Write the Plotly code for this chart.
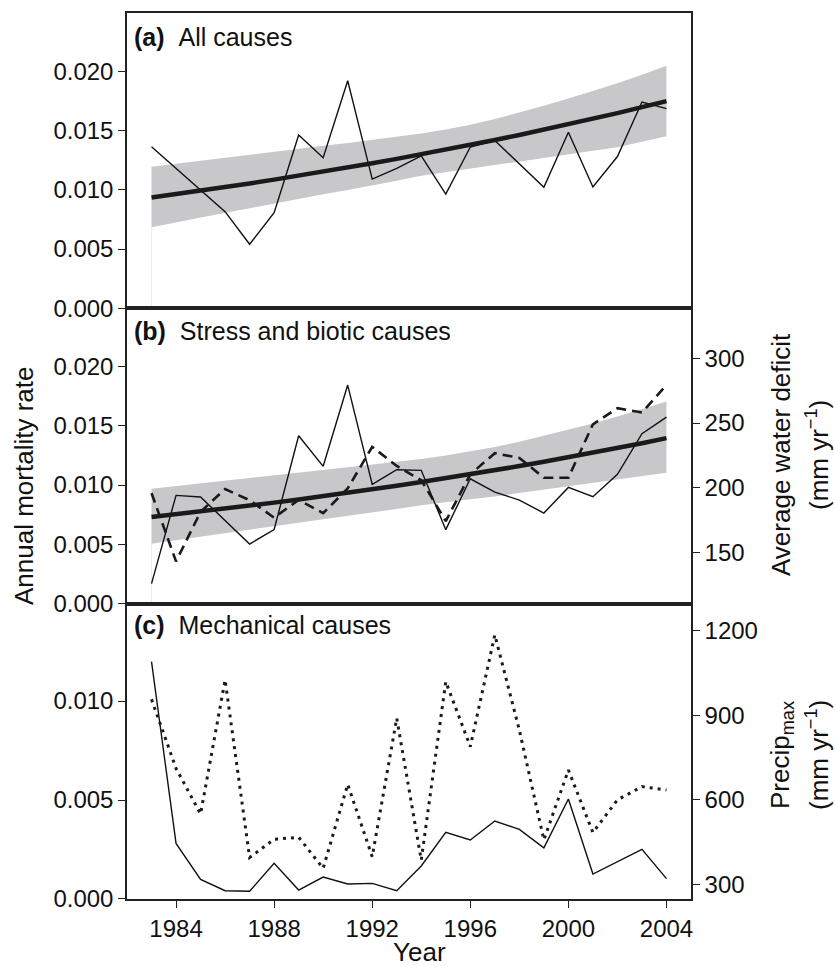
import plotly.graph_objects as go

years = list(range(1983, 2005))

# Panel (a) all causes
a_obs = [0.01362, 0.01180, 0.00997, 0.00815, 0.00540, 0.00806, 0.01461, 0.01270, 0.01919,
         0.01090, 0.01180, 0.01285, 0.00963, 0.01360, 0.01415, 0.01216, 0.01020, 0.01485,
         0.01023, 0.01280, 0.01740, 0.01684]
a_fit = [0.00935, 0.00963, 0.00992, 0.01022, 0.01053, 0.01085, 0.01118, 0.01152, 0.01187,
         0.01223, 0.01260, 0.01298, 0.01337, 0.01377, 0.01419, 0.01462, 0.01506, 0.01551,
         0.01598, 0.01646, 0.01696, 0.01747]
a_up = [0.01194, 0.01220, 0.01245, 0.01270, 0.01295, 0.01320, 0.01345, 0.01370, 0.01394,
        0.01419, 0.01446, 0.01475, 0.01508, 0.01548, 0.01596, 0.01650, 0.01708, 0.01770,
        0.01835, 0.01897, 0.01970, 0.02045]
a_lo = [0.00683, 0.00724, 0.00765, 0.00805, 0.00845, 0.00884, 0.00923, 0.00961, 0.00998,
        0.01034, 0.01076, 0.01118, 0.01148, 0.01178, 0.01208, 0.01238, 0.01268, 0.01298,
        0.01328, 0.01358, 0.01403, 0.01450]

# Panel (b) stress and biotic causes
b_obs = [0.00169, 0.00913, 0.00899, 0.00702, 0.00503, 0.00625, 0.01416, 0.01158, 0.01843,
         0.01006, 0.01129, 0.01124, 0.00624, 0.01053, 0.00941, 0.00873, 0.00764, 0.00980,
         0.00902, 0.01090, 0.01433, 0.01573]
b_def = [195.8, 143.0, 181.3, 199.0, 190.3, 176.8, 190.6, 180.3, 199.4, 231.6, 216.8, 205.8,
         174.2, 210.3, 226.7, 223.0, 207.7, 207.7, 249.0, 261.5, 258.2, 279.4]
b_fit = [0.00730, 0.00753, 0.00777, 0.00801, 0.00826, 0.00852, 0.00879, 0.00906, 0.00935,
         0.00964, 0.00994, 0.01025, 0.01057, 0.01090, 0.01124, 0.01160, 0.01196, 0.01234,
         0.01272, 0.01312, 0.01353, 0.01396]
b_up = [0.00969, 0.00991, 0.01013, 0.01035, 0.01058, 0.01081, 0.01104, 0.01127, 0.01150,
        0.01174, 0.01195, 0.01220, 0.01250, 0.01284, 0.01320, 0.01365, 0.01415, 0.01465,
        0.01520, 0.01579, 0.01640, 0.01705]
b_lo = [0.00506, 0.00536, 0.00566, 0.00596, 0.00625, 0.00654, 0.00683, 0.00711, 0.00739,
        0.00767, 0.00798, 0.00829, 0.00855, 0.00880, 0.00904, 0.00932, 0.00960, 0.00988,
        0.01016, 0.01045, 0.01075, 0.01104]

# Panel (c) mechanical causes
c_obs = [0.01199, 0.00281, 0.00099, 0.00042, 0.00039, 0.00180, 0.00045, 0.00111, 0.00076,
         0.00079, 0.00042, 0.00167, 0.00337, 0.00298, 0.00394, 0.00352, 0.00258, 0.00505,
         0.00126, 0.00189, 0.00251, 0.00103]
c_pre = [957, 712, 550, 1026, 395, 460, 467, 357, 655, 398, 890, 386, 1020, 789, 1186, 848,
         458, 706, 484, 600, 647, 635]

x_ticks = [1984, 1988, 1992, 1996, 2000, 2004]
left_ticks_ab = [0, 0.005, 0.010, 0.015, 0.020]
left_ticks_c = [0, 0.005, 0.010]
def_ticks = [150, 200, 250, 300]
pre_ticks = [300, 600, 900, 1200]

FONT = "Liberation Sans, Arial, sans-serif"
BAND = "#c8c8ca"
INK = "#111111"
FRAME = "#222222"

fig = go.Figure()

def add_panel(xa, ya, obs, up, lo):
    fig.add_trace(go.Scatter(x=years + years[::-1], y=up + lo[::-1], fill="toself",
                             fillcolor=BAND, line=dict(width=0), mode="lines",
                             xaxis=xa, yaxis=ya, hoverinfo="skip", showlegend=False))
    fig.add_trace(go.Scatter(x=[years[0], years[0]], y=[0, lo[0]], mode="lines",
                             line=dict(color="#ececec", width=1), xaxis=xa, yaxis=ya,
                             showlegend=False))
    fig.add_trace(go.Scatter(x=years, y=obs, mode="lines", line=dict(color=INK, width=1.4),
                             xaxis=xa, yaxis=ya, showlegend=False))

def add_fit(xa, ya, fit):
    fig.add_trace(go.Scatter(x=years, y=fit, mode="lines", line=dict(color="#1a1a1a", width=4.5),
                             xaxis=xa, yaxis=ya, showlegend=False))

add_panel("x", "y", a_obs, a_up, a_lo)
add_fit("x", "y", a_fit)

add_panel("x2", "y2", b_obs, b_up, b_lo)
fig.add_trace(go.Scatter(x=years, y=b_def, mode="lines",
                         line=dict(color="#1a1a1a", width=2.6, dash="10px,6px"),
                         xaxis="x2", yaxis="y4", showlegend=False))
add_fit("x2", "y2", b_fit)

fig.add_trace(go.Scatter(x=years, y=c_pre, mode="lines",
                         line=dict(color="#1a1a1a", width=3, dash="3px,5px"),
                         xaxis="x3", yaxis="y5", showlegend=False))
fig.add_trace(go.Scatter(x=years, y=c_obs, mode="lines", line=dict(color=INK, width=1.4),
                         xaxis="x3", yaxis="y3", showlegend=False))

tickfont = dict(family=FONT, size=24, color="#111")
common_x = dict(range=[1982, 2005], showgrid=False, zeroline=False, showline=True,
                mirror=True, linecolor=FRAME, linewidth=1.5)
common_y = dict(showgrid=False, zeroline=False, showline=True, mirror=True,
                linecolor=FRAME, linewidth=1.5, ticks="outside", ticklen=7,
                tickwidth=1.3, tickcolor=FRAME, tickfont=tickfont)

fig.update_layout(
    width=835, height=966,
    margin=dict(l=127, r=144, t=13, b=67),
    paper_bgcolor="white", plot_bgcolor="white",
    font=dict(family=FONT, color="#111"),
    xaxis=dict(domain=[0, 1], anchor="y", showticklabels=False, ticks="", **common_x),
    xaxis2=dict(domain=[0, 1], anchor="y2", showticklabels=False, ticks="", **common_x),
    xaxis3=dict(domain=[0, 1], anchor="y3", ticks="outside", ticklen=7, tickwidth=1.3,
                tickcolor=FRAME, tickvals=x_ticks, ticktext=[str(v) for v in x_ticks],
                tickfont=tickfont, **common_x),
    yaxis=dict(domain=[2/3, 1], anchor="x", range=[0, 0.0249], tickvals=left_ticks_ab,
               ticktext=[f"{v:.3f}" for v in left_ticks_ab], **common_y),
    yaxis2=dict(domain=[1/3, 2/3], anchor="x2", range=[0, 0.0249], tickvals=left_ticks_ab,
                ticktext=[f"{v:.3f}" for v in left_ticks_ab], **common_y),
    yaxis3=dict(domain=[0, 1/3], anchor="x3", range=[0, 0.01492], tickvals=left_ticks_c,
                ticktext=[f"{v:.3f}" for v in left_ticks_c], **common_y),
    yaxis4=dict(overlaying="y2", side="right", anchor="x2", range=[110.3, 338.7],
                tickvals=def_ticks, ticktext=[str(v) for v in def_ticks], **common_y),
    yaxis5=dict(overlaying="y3", side="right", anchor="x3", range=[247.8, 1297],
                tickvals=pre_ticks, ticktext=[str(v) for v in pre_ticks], **common_y),
)

def px_x(px):
    return (px - 127) / 564

def px_y(py):
    return (899 - py) / 886

ann = []
lab_font = dict(family=FONT, size=25, color="#111")
for txt, yy in [("<b>(a)</b>\u00a0\u00a0All causes", 37),
                ("<b>(b)</b>\u00a0\u00a0Stress and biotic causes", 331),
                ("<b>(c)</b>\u00a0\u00a0Mechanical causes", 625)]:
    ann.append(dict(text=txt, x=px_x(132), y=px_y(yy), xref="paper", yref="paper",
                    xanchor="left", yanchor="middle", showarrow=False, font=lab_font))

title_font = dict(family=FONT, size=26, color="#111")
ann.append(dict(text="Annual mortality rate", x=px_x(24), y=px_y(486), xref="paper", yref="paper",
                xanchor="center", yanchor="middle", textangle=-90, showarrow=False, font=title_font))
ann.append(dict(text="Year", x=px_x(420), y=px_y(952), xref="paper", yref="paper",
                xanchor="center", yanchor="middle", showarrow=False, font=title_font))
ann.append(dict(text="Average water deficit", x=px_x(781), y=px_y(455), xref="paper", yref="paper",
                xanchor="center", yanchor="middle", textangle=-90, showarrow=False, font=title_font))
ann.append(dict(text="(mm yr<sup>\u22121</sup>)", x=px_x(817), y=px_y(455), xref="paper", yref="paper",
                xanchor="center", yanchor="middle", textangle=-90, showarrow=False, font=title_font))
ann.append(dict(text="Precip<sub>max</sub>", x=px_x(781), y=px_y(755), xref="paper", yref="paper",
                xanchor="center", yanchor="middle", textangle=-90, showarrow=False, font=title_font))
ann.append(dict(text="(mm yr<sup>\u22121</sup>)", x=px_x(817), y=px_y(755), xref="paper", yref="paper",
                xanchor="center", yanchor="middle", textangle=-90, showarrow=False, font=title_font))
fig.update_layout(annotations=ann)

fig.write_html("out.html", config={"displayModeBar": False},
               post_script="document.body.style.margin='0';")
